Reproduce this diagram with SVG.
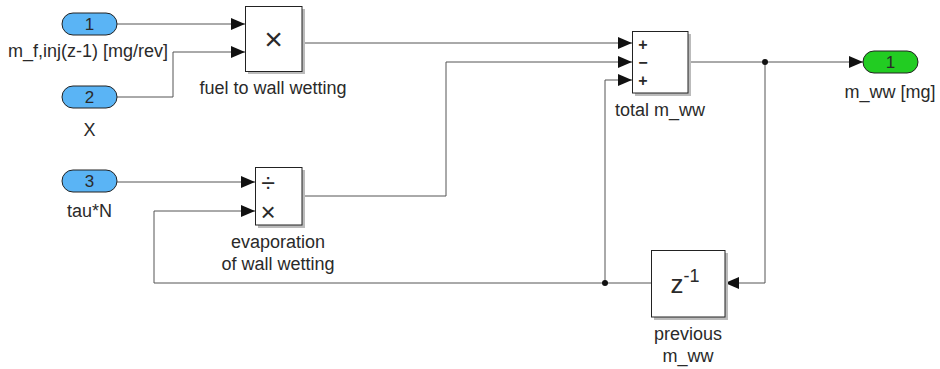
<svg xmlns="http://www.w3.org/2000/svg" width="940" height="369" viewBox="0 0 940 369">
<style>
.blk{fill:#fff;stroke:#222;stroke-width:1}
.sh{fill:#bbb}
.in{fill:#5ab4f5;stroke:#222;stroke-width:1}
.out{fill:#22cc22;stroke:#222;stroke-width:1}
.w{fill:none;stroke:#555;stroke-width:1}
</style>
<defs>
<marker id="ar" viewBox="0 0 14 12" refX="14" refY="6" markerWidth="14" markerHeight="12" markerUnits="userSpaceOnUse" orient="auto">
<path d="M0,0 L14,6 L0,12 Z" fill="#111"/>
</marker>
</defs>
<rect width="940" height="369" fill="#fff"/>
<g id="connectors">
<path class="w" d="M117,24 H245" marker-end="url(#ar)"/>
<path class="w" d="M117,97 H173 V52 H245" marker-end="url(#ar)"/>
<path class="w" d="M117,182 H255" marker-end="url(#ar)"/>
<path class="w" d="M605,283 H154 V211 H255" marker-end="url(#ar)"/>
<path class="w" d="M302,43 H632" marker-end="url(#ar)"/>
<path class="w" d="M302,196 H446 V62 H632" marker-end="url(#ar)"/>
<path class="w" d="M651,283 H605 V80 H632" marker-end="url(#ar)"/>
<path class="w" d="M688,62 H863" marker-end="url(#ar)"/>
<path class="w" d="M765,62 V283 H725" marker-end="url(#ar)"/>
<circle cx="765" cy="62" r="3" fill="#111"/>
<circle cx="605" cy="283" r="3" fill="#111"/>
</g>
<g font-family="'Liberation Sans', Arial, sans-serif" font-size="18" fill="#2a2a2a" text-anchor="middle">
<g id="in1">
<rect class="in" x="62" y="13" width="55" height="22" rx="11"/>
<text x="89.5" y="30" font-size="17">1</text>
<text x="88" y="57">m_f,inj(z-1) [mg/rev]</text>
</g>
<g id="in2">
<rect class="in" x="62" y="86" width="55" height="22" rx="11"/>
<text x="89.5" y="103" font-size="17">2</text>
<text x="89.5" y="136">X</text>
</g>
<g id="in3">
<rect class="in" x="62" y="170" width="55" height="22" rx="11"/>
<text x="89.5" y="187" font-size="17">3</text>
<text x="89.5" y="217">tau*N</text>
</g>
<g id="product">
<rect class="sh" x="248" y="9" width="57" height="65"/>
<rect class="blk" x="245.5" y="6.5" width="56.5" height="65"/>
<text x="273.5" y="50" font-size="32">×</text>
<text x="273" y="94">fuel to wall wetting</text>
</g>
<g id="divide">
<rect class="sh" x="258" y="170" width="47" height="58"/>
<rect class="blk" x="255.5" y="167.5" width="46.5" height="57.5"/>
<text x="268" y="192" font-size="25">÷</text>
<text x="268" y="221" font-size="26">×</text>
<text x="278" y="248">evaporation</text>
<text x="278" y="270">of wall wetting</text>
</g>
<g id="sum">
<rect class="sh" x="635" y="34" width="56" height="62"/>
<rect class="blk" x="632.5" y="31.5" width="55.5" height="61.5"/>
<text x="643" y="50" font-size="16" font-weight="bold">+</text>
<text x="643" y="68" font-size="16" font-weight="bold">−</text>
<text x="643" y="86" font-size="16" font-weight="bold">+</text>
<text x="660" y="116">total m_ww</text>
</g>
<g id="delay">
<rect class="sh" x="654" y="253" width="74" height="67"/>
<rect class="blk" x="651.5" y="250.5" width="73.5" height="66.5"/>
<text x="685" y="293" font-size="26">z<tspan dy="-11" font-size="18">-1</tspan></text>
<text x="688" y="340">previous</text>
<text x="688" y="362">m_ww</text>
</g>
<g id="out1">
<rect class="out" x="863" y="51" width="55" height="22" rx="11"/>
<text x="890.5" y="68" font-size="17">1</text>
<text x="890" y="98">m_ww [mg]</text>
</g>
</g>
</svg>
